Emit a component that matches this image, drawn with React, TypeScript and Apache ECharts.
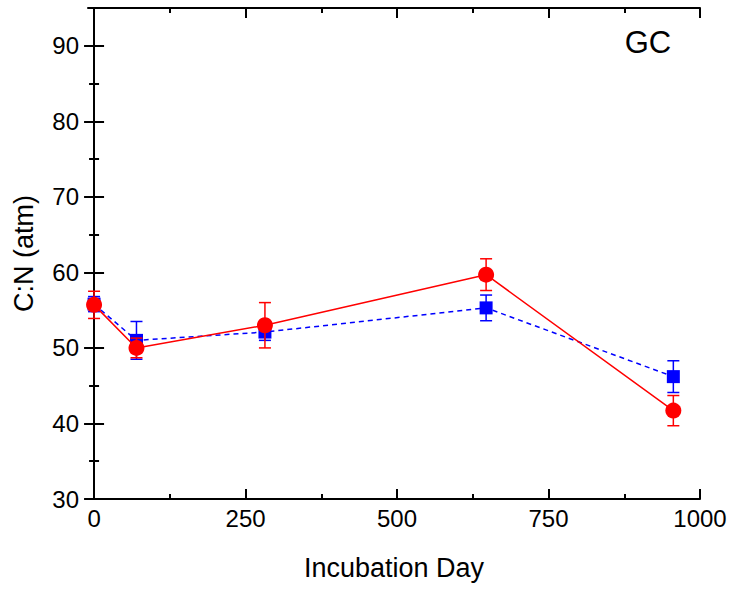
import * as echarts from 'echarts'
import React, { useEffect, useRef } from 'react'

// incubation days and C:N values
const days = [0, 70, 282, 647, 956]
const redMean = [55.7, 50.0, 53.0, 59.7, 41.7]
const redErr = [1.8, 1.3, 3.0, 2.1, 2.0]
const blueMean = [55.8, 51.0, 52.1, 55.3, 46.2]
const blueErr = [1.0, 2.5, 1.1, 1.7, 2.1]

const xMajor = [0, 250, 500, 750, 1000]
const xMinor = [125, 375, 625, 875]
const yMajor = [30, 40, 50, 60, 70, 80, 90]
const yMinor = [35, 45, 55, 65, 75, 85]

const FONT = 'Liberation Sans, Arial, sans-serif'

const errorSeries = (mean: number[], err: number[], color: string) => ({
  type: 'custom',
  xAxisIndex: 0,
  yAxisIndex: 0,
  encode: { x: 0, y: [1, 2] },
  data: days.map((d, i) => [d, mean[i] - err[i], mean[i] + err[i]]),
  renderItem: (_params: any, api: any) => {
    const x = api.value(0)
    const lo = api.coord([x, api.value(1)])
    const hi = api.coord([x, api.value(2)])
    const w = 6
    const style = { stroke: color, lineWidth: 1.5 }
    return {
      type: 'group',
      children: [
        { type: 'line', shape: { x1: hi[0], y1: hi[1], x2: lo[0], y2: lo[1] }, style },
        { type: 'line', shape: { x1: hi[0] - w, y1: hi[1], x2: hi[0] + w, y2: hi[1] }, style },
        { type: 'line', shape: { x1: lo[0] - w, y1: lo[1], x2: lo[0] + w, y2: lo[1] }, style }
      ]
    }
  },
  z: 3
})

const App: React.FC = () => {
  const chartRef = useRef<HTMLDivElement>(null)

  useEffect(() => {
    const chart = echarts.init(chartRef.current!, null, { renderer: 'svg' })

    const axisLine = { show: true, lineStyle: { color: '#000', width: 2 } }
    const tickStyle = { color: '#000', width: 2 }
    const xBase = { type: 'value', min: -10, max: 1000, splitLine: { show: false } }
    const yBase = { type: 'value', min: 30, max: 95, splitLine: { show: false } }
    const labelStyle = { fontSize: 24, color: '#000', fontFamily: FONT }

    chart.setOption({
      animation: false,
      backgroundColor: '#fff',
      grid: { left: 88, right: 34, top: 8, bottom: 91, containLabel: false },
      xAxis: [
        {
          ...xBase,
          position: 'bottom',
          axisLine,
          axisTick: { show: true, inside: true, length: 10, customValues: xMajor, lineStyle: tickStyle },
          axisLabel: { ...labelStyle, customValues: xMajor, margin: 7, formatter: (v: number) => String(v) },
          name: 'Incubation Day',
          nameLocation: 'middle',
          nameGap: 55,
          nameTextStyle: { fontSize: 27, color: '#000', fontFamily: FONT }
        },
        {
          ...xBase,
          position: 'bottom',
          axisLine: { show: false },
          axisTick: { show: true, inside: true, length: 5, customValues: xMinor, lineStyle: tickStyle },
          axisLabel: { show: false }
        },
        {
          ...xBase,
          position: 'top',
          axisLine,
          axisTick: { show: true, inside: true, length: 10, customValues: xMajor, lineStyle: tickStyle },
          axisLabel: { show: false }
        },
        {
          ...xBase,
          position: 'top',
          axisLine: { show: false },
          axisTick: { show: true, inside: true, length: 5, customValues: xMinor, lineStyle: tickStyle },
          axisLabel: { show: false }
        }
      ],
      yAxis: [
        {
          ...yBase,
          position: 'left',
          axisLine,
          axisTick: { show: true, inside: true, length: 10, customValues: yMajor, lineStyle: tickStyle },
          axisLabel: { ...labelStyle, customValues: yMajor, margin: 9 },
          name: 'C:N (atm)',
          nameLocation: 'middle',
          nameGap: 51,
          nameTextStyle: { fontSize: 27, color: '#000', fontFamily: FONT }
        },
        {
          ...yBase,
          position: 'left',
          axisLine: { show: false },
          axisTick: { show: true, inside: true, length: 5, customValues: yMinor, lineStyle: tickStyle },
          axisLabel: { show: false }
        },
        {
          ...yBase,
          position: 'right',
          axisLine,
          axisTick: { show: true, inside: true, length: 10, customValues: yMajor, lineStyle: tickStyle },
          axisLabel: { show: false }
        },
        {
          ...yBase,
          position: 'right',
          axisLine: { show: false },
          axisTick: { show: true, inside: true, length: 5, customValues: yMinor, lineStyle: tickStyle },
          axisLabel: { show: false }
        }
      ],
      graphic: [
        {
          type: 'text',
          x: 648,
          y: 42,
          style: {
            text: 'GC',
            fontSize: 31,
            fontFamily: FONT,
            fill: '#000',
            textAlign: 'center',
            textVerticalAlign: 'middle'
          }
        }
      ],
      series: [
        {
          type: 'line',
          xAxisIndex: 0,
          yAxisIndex: 0,
          data: days.map((d, i) => [d, blueMean[i]]),
          symbol: 'rect',
          symbolSize: 13,
          itemStyle: { color: '#0000ff' },
          lineStyle: { color: '#0000ff', width: 1.5, type: [5, 4] },
          z: 2
        },
        errorSeries(blueMean, blueErr, '#0000ff'),
        {
          type: 'line',
          xAxisIndex: 0,
          yAxisIndex: 0,
          data: days.map((d, i) => [d, redMean[i]]),
          symbol: 'circle',
          symbolSize: 16,
          itemStyle: { color: '#ff0000' },
          lineStyle: { color: '#ff0000', width: 1.5 },
          z: 4
        },
        { ...errorSeries(redMean, redErr, '#ff0000'), z: 5 }
      ]
    })

    return () => {
      chart.dispose()
    }
  }, [])

  return <div ref={chartRef} style={{ position: 'fixed', left: 0, top: 0, width: 734, height: 590 }} />
}

export default App
